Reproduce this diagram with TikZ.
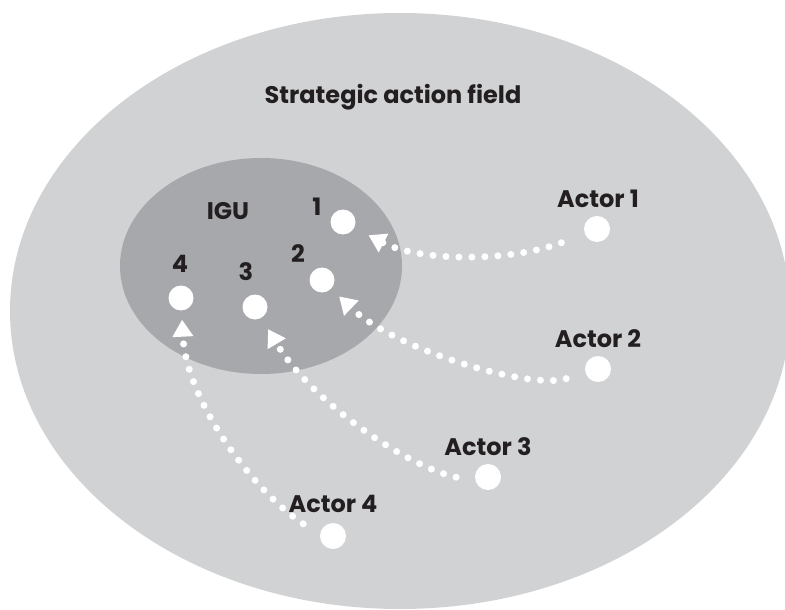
\documentclass[tikz,border=0pt]{standalone}
\usepackage{fontspec}
\setmainfont{Poppins}
\usetikzlibrary{arrows.meta}
\definecolor{fieldgray}{HTML}{D1D2D4}
\definecolor{igugray}{HTML}{A7A8AB}
\definecolor{ink}{HTML}{231F20}
\begin{document}
\begin{tikzpicture}[x=1pt,y=-1pt,
  member/.style={circle,fill=white,minimum size=25pt,inner sep=0pt},
  actor/.style={circle,fill=white,minimum size=26pt,inner sep=0pt},
  lbl/.style={text=ink,font=\bfseries\fontsize{24}{24}\selectfont,inner sep=0pt,anchor=base},
  link/.style={white,line width=7pt,line cap=round,dash pattern=on 0pt off 13pt,
    -{Triangle[length=17pt,width=20pt]}}]
\useasboundingbox (0,0) rectangle (785,610);
% strategic action field
\begin{scope}
  \clip (0,0) rectangle (785,610);
  \fill[fieldgray] (400,311) ellipse [x radius=390, y radius=298];
\end{scope}
% IGU
\fill[igugray] (261,266) ellipse [x radius=141, y radius=108];

\node[lbl] (title) at (393,103) {Strategic action field};
\node[lbl] (igu) at (228,219) {IGU};

% IGU members
\node[member] (d1) at (343,222) {};
\node[member] (d2) at (322,280) {};
\node[member] (d3) at (255,307) {};
\node[member] (d4) at (181,298) {};
\node[lbl] (n1) at (317,215) {1};
\node[lbl] (n2) at (298,262) {2};
\node[lbl] (n3) at (246,280) {3};
\node[lbl] (n4) at (180,272) {4};

% actors
\node[actor] (a1) at (597,229) {};
\node[actor] (a2) at (598,369) {};
\node[actor] (a3) at (488,477) {};
\node[actor] (a4) at (333,536) {};
\node[lbl] (l1) at (598,207) {Actor 1};
\node[lbl] (l2) at (598,347) {Actor 2};
\node[lbl] (l3) at (488,455) {Actor 3};
\node[lbl] (l4) at (333,512) {Actor 4};

% links from actors into the IGU
\draw[link,shorten <=25pt,shorten >=16pt] (a1.202) .. controls (510,262) and (420,262) .. (d1);
\draw[link,shorten <=20pt,shorten >=11pt] (a2.196) .. controls (530,390) and (395,350) .. (d2);
\draw[link,shorten <=20pt,shorten >=13pt] (a3.200) .. controls (405,466) and (310,400) .. (d3);
\draw[link,shorten <=20pt,shorten >=9pt] (a4.175) .. controls (252,490) and (186,400) .. (d4);
\end{tikzpicture}
\end{document}
